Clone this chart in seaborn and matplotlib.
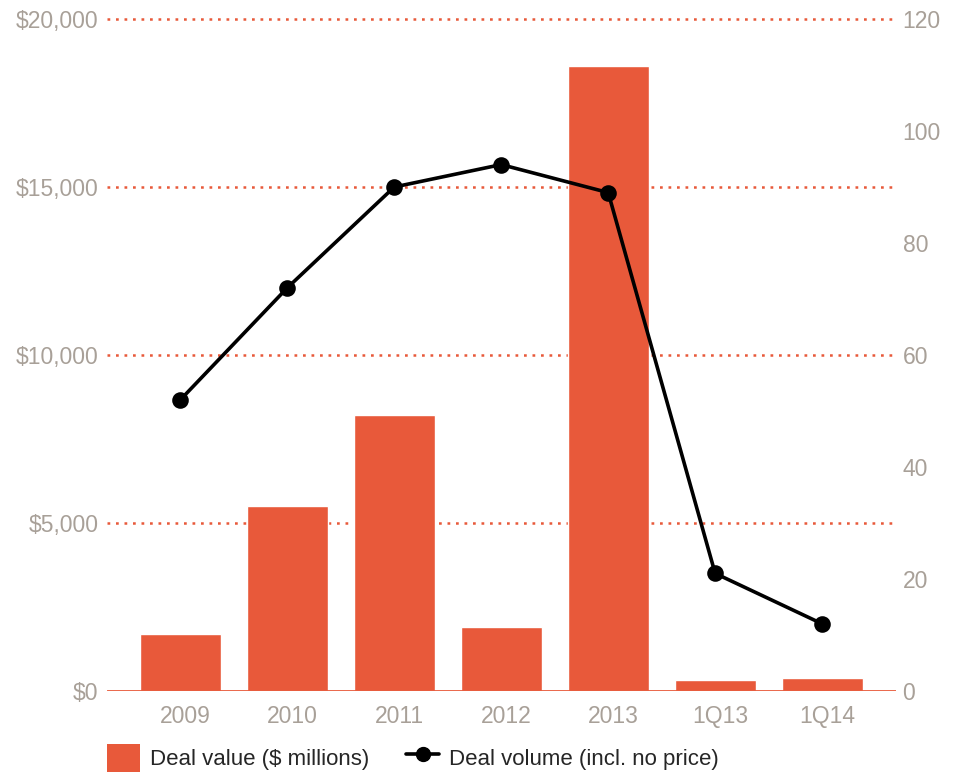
import matplotlib
matplotlib.use("Agg")
import matplotlib.pyplot as plt
import matplotlib.transforms as mtransforms
import seaborn as sns
import pandas as pd
import numpy as np
from matplotlib.patches import Patch
from matplotlib.lines import Line2D

categories = ["2009", "2010", "2011", "2012", "2013", "1Q13", "1Q14"]
deal_value = [1700, 5500, 8200, 1900, 18600, 330, 390]
deal_volume = [52, 72, 90, 94, 89, 21, 12]
left_ticks = [0, 5000, 10000, 15000, 20000]
left_labels = ["$0", "$5,000", "$10,000", "$15,000", "$20,000"]
right_ticks = [0, 20, 40, 60, 80, 100, 120]

sns.set_theme(style="white")
plt.rcParams["font.family"] = ["Liberation Sans", "DejaVu Sans"]

ORANGE = "#E8593A"
GRAY = "#A8A098"

df = pd.DataFrame({"cat": categories, "value": deal_value, "volume": deal_volume})

fig = plt.figure(figsize=(9.63, 7.75), dpi=100)
ax = fig.add_axes([0.111, 0.1084, 0.819, 0.8671])

sns.barplot(data=df, x="cat", y="value", color=ORANGE, saturation=1, width=0.757, ax=ax, zorder=2)
ax.set_ylim(0, 20000)
ax.set_xlim(-0.687, 6.687)
ax.set_yticks(left_ticks)
ax.set_yticklabels(left_labels)
for y in left_ticks[1:]:
    ax.axhline(y, color=ORANGE, linestyle=(0, (1.1, 2.3)), linewidth=1.8, zorder=1, clip_on=False)
ax.axhline(0, color=ORANGE, linewidth=2, zorder=3)
for s in ax.spines.values():
    s.set_visible(False)
ax.set_xlabel("")
ax.set_ylabel("")
ax.tick_params(axis="both", length=0, labelsize=16.5, labelcolor=GRAY)
ax.tick_params(axis="x", pad=10)
ax.tick_params(axis="y", pad=6)
offset = mtransforms.ScaledTranslation(5 / 100, 0, fig.dpi_scale_trans)
for lab in ax.get_xticklabels():
    lab.set_transform(lab.get_transform() + offset)

ax2 = ax.twinx()
sns.pointplot(data=df, x="cat", y="volume", color="black", markers="o",
              markersize=10, linewidth=2.6, ax=ax2, zorder=4)
ax2.set_ylim(0, 120)
ax2.set_xlim(-0.687, 6.687)
ax2.set_yticks(right_ticks)
for s in ax2.spines.values():
    s.set_visible(False)
ax2.set_ylabel("")
ax2.set_xlabel("")
ax2.tick_params(axis="y", length=0, labelsize=16.5, labelcolor=GRAY, pad=5)
ax2.grid(False)
ax.grid(False)

handles = [
    Patch(facecolor=ORANGE, edgecolor="none", label="Deal value ($ millions)"),
    Line2D([0], [0], color="black", linewidth=2.6, marker="o", markersize=10,
           label="Deal volume (incl. no price)"),
]
fig.legend(handles=handles, loc="center left", bbox_to_anchor=(0.111, 0.022), ncol=2,
           frameon=False, fontsize=16, handlelength=1.5, handleheight=1.6,
           columnspacing=1.65, handletextpad=0.45, borderpad=0, borderaxespad=0)

fig.savefig("out.png", dpi=100)
